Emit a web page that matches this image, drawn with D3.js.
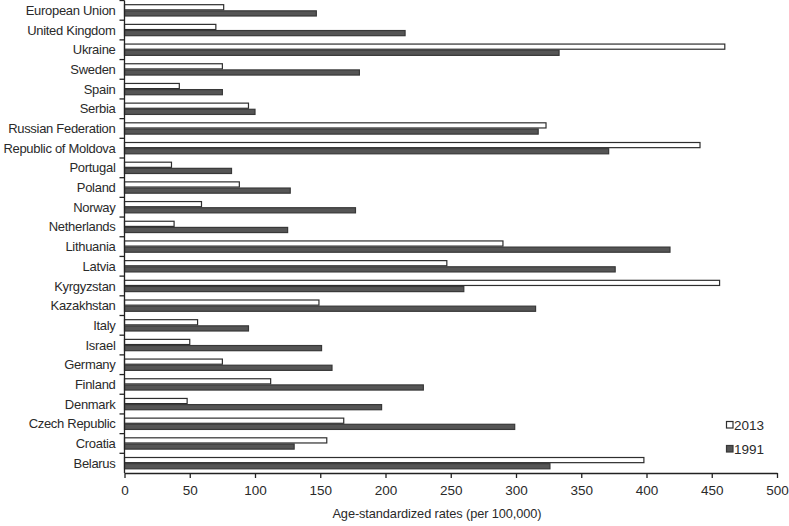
<!DOCTYPE html>
<html lang="en">
  <head>
    <meta charset="UTF-8"/>
    <title>Age-standardized rates 1991 vs 2013</title>
    <script src="https://cdn.jsdelivr.net/npm/d3@7/dist/d3.min.js"></script>
    <style>
      body { margin: 0; background: #fff; }
      text { font-family: "Liberation Sans", Arial, sans-serif; fill: #2a2a2a; }
    </style>
  </head>
  <body>
    <script>
    // categories, bottom to top as in the figure
    var countries = ['Belarus', 'Croatia', 'Czech Republic', 'Denmark', 'Finland', 'Germany',
      'Israel', 'Italy', 'Kazakhstan', 'Kyrgyzstan', 'Latvia', 'Lithuania', 'Netherlands',
      'Norway', 'Poland', 'Portugal', 'Republic of Moldova', 'Russian Federation', 'Serbia',
      'Spain', 'Sweden', 'Ukraine', 'United Kingdom', 'European Union'];
    var rates2013 = [398, 155, 168, 48, 112, 75, 50, 56, 149, 456, 247, 290, 38,
      59, 88, 36, 441, 323, 95, 42, 75, 460, 70, 76];
    var rates1991 = [326, 130, 299, 197, 229, 159, 151, 95, 315, 260, 376, 418, 125,
      177, 127, 82, 371, 317, 100, 75, 180, 333, 215, 147];
    var seriesNames = ['2013', '1991'];
    var xTicks = [0, 50, 100, 150, 200, 250, 300, 350, 400, 450, 500];

    var width = 789, height = 526;
    var margin = {left: 124.5, right: 12, top: 0.5, bottom: 53};

    var svg = d3.select('body').append('svg')
      .attr('width', width)
      .attr('height', height);

    var x = d3.scaleLinear().domain([0, 500])
      .range([margin.left, width - margin.right]);

    // reversed so the first country sits at the bottom
    var y = d3.scaleBand().domain(countries.slice().reverse())
      .range([margin.top, height - margin.bottom])
      .paddingInner(0).paddingOuter(0);

    var inner = d3.scaleBand().domain(seriesNames)
      .range([0, y.bandwidth()])
      .paddingOuter(0.6).paddingInner(0);

    var fills = {'2013': '#ffffff', '1991': '#555555'};
    var strokes = {'2013': '#2e2e2e', '1991': '#383838'};

    var rows = countries.map(function(c, i) {
      return {country: c, vals: [
        {s: '2013', v: rates2013[i]},
        {s: '1991', v: rates1991[i]}
      ]};
    });

    var g = svg.append('g').selectAll('g')
      .data(rows).enter().append('g')
      .attr('transform', function(d) { return 'translate(0,' + y(d.country) + ')'; });

    g.selectAll('rect')
      .data(function(d) { return d.vals; })
      .enter().append('rect')
      .attr('x', x(0))
      .attr('y', function(d) { return inner(d.s) + 0.5; })
      .attr('width', function(d) { return x(d.v) - x(0); })
      .attr('height', inner.bandwidth() - 1)
      .attr('fill', function(d) { return fills[d.s]; })
      .attr('stroke', function(d) { return strokes[d.s]; })
      .attr('stroke-width', 1.2);

    // x axis
    var xAxis = svg.append('g')
      .attr('transform', 'translate(0,' + (height - margin.bottom) + ')')
      .call(d3.axisBottom(x).tickValues(xTicks).tickSize(5).tickPadding(7).tickSizeOuter(0));
    xAxis.selectAll('text').style('font-size', '13.5px').style('fill', '#2a2a2a');
    xAxis.select('.domain').attr('stroke', '#222').attr('stroke-width', 1.3);
    xAxis.selectAll('.tick line').attr('stroke', '#222').attr('stroke-width', 1.3);

    // y axis: ticks sit between categories
    var yAxis = svg.append('g')
      .attr('transform', 'translate(' + margin.left + ',0)');
    yAxis.append('line')
      .attr('x1', 0).attr('x2', 0)
      .attr('y1', margin.top).attr('y2', height - margin.bottom)
      .attr('stroke', '#222').attr('stroke-width', 1.3);
    yAxis.selectAll('line.tk')
      .data(countries).enter().append('line')
      .attr('class', 'tk')
      .attr('x1', -5).attr('x2', 0)
      .attr('y1', function(d) { return y(d); })
      .attr('y2', function(d) { return y(d); })
      .attr('stroke', '#222').attr('stroke-width', 1.3);
    yAxis.selectAll('text')
      .data(countries).enter().append('text')
      .attr('x', -9)
      .attr('y', function(d) { return y(d) + y.bandwidth() / 2; })
      .attr('dy', '0.35em')
      .attr('text-anchor', 'end')
      .style('font-size', '13px')
      .style('letter-spacing', '-0.3px')
      .text(function(d) { return d; });

    // axis title
    svg.append('text')
      .attr('x', 437).attr('y', 518)
      .attr('text-anchor', 'middle')
      .style('font-size', '12.8px')
      .style('letter-spacing', '-0.1px')
      .text('Age-standardized rates (per 100,000)');

    // legend
    var leg = svg.append('g').selectAll('g')
      .data(seriesNames).enter().append('g')
      .attr('transform', function(d, i) { return 'translate(726,' + (421 + i * 24) + ')'; });
    leg.append('rect')
      .attr('x', 0.5).attr('y', 0.5)
      .attr('width', 6.5).attr('height', 6.5)
      .attr('fill', function(d) { return fills[d]; })
      .attr('stroke', function(d) { return strokes[d]; })
      .attr('stroke-width', 1.2);
    leg.append('text')
      .attr('x', 8).attr('y', 4)
      .attr('dy', '0.35em')
      .style('font-size', '13.5px')
      .text(function(d) { return d; });
    </script>
  </body>
</html>
